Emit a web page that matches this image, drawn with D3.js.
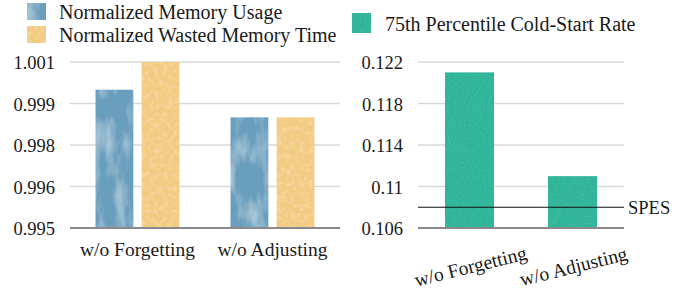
<!DOCTYPE html>
<html lang="en">
<head>
    <meta charset="UTF-8">
    <script src="https://cdn.jsdelivr.net/npm/d3@7"></script>
    <title>ablation</title>
    <style>
        body { margin: 0; background: #fff; }
    </style>
</head>
<body>
</body>
<script>

    // data
    let categories = ["w/o Forgetting", "w/o Adjusting"];
    let seriesNames = ["Normalized Memory Usage", "Normalized Wasted Memory Time"];
    let memoryUsage = [1.0000, 0.9990];
    let wastedMemTime = [1.0010, 0.9990];
    let leftTicks = [0.995, 0.9965, 0.998, 0.9995, 1.001];
    let leftTickLabels = ["0.995", "0.996", "0.998", "0.999", "1.001"];

    let coldStartName = "75th Percentile Cold-Start Rate";
    let coldStart = [0.121, 0.111];
    let rightTicks = [0.106, 0.110, 0.114, 0.118, 0.122];
    let rightTickLabels = ["0.106", "0.11", "0.114", "0.118", "0.122"];
    let spes = 0.108;

    let width = 696, height = 293;
    let svg = d3.select("body")
        .append("svg")
        .attr("width", width)
        .attr("height", height)

    // textures, roughly like the office fills
    let defs = svg.append("defs");
    function texture(id, freq, oct, seed, rgb, amp, off) {
        let f = defs.append("filter").attr("id", id)
            .attr("x", 0).attr("y", 0).attr("width", 1).attr("height", 1);
        f.append("feTurbulence").attr("type", "fractalNoise")
            .attr("baseFrequency", freq).attr("numOctaves", oct).attr("seed", seed).attr("result", "n");
        f.append("feColorMatrix").attr("in", "n").attr("type", "matrix")
            .attr("values", `0 0 0 0 ${rgb[0]}  0 0 0 0 ${rgb[1]}  0 0 0 0 ${rgb[2]}  ${amp} 0 0 0 ${off}`)
            .attr("result", "c");
        f.append("feComposite").attr("in", "c").attr("in2", "SourceGraphic").attr("operator", "atop");
    }
    texture("texBlue", "0.07 0.025", 3, 4, [0.6, 0.78, 0.85], 1.4, -0.6);
    texture("texYellow", "0.22 0.22", 2, 7, [0.97, 0.86, 0.64], 0.9, -0.42);
    texture("texGreen", "0.7 0.7", 2, 2, [0.12, 0.55, 0.46], 1.0, -0.45);

    let colors = ["#6a9ebd", "#f3cc84"];
    let filters = ["url(#texBlue)", "url(#texYellow)"];

    let plotTop = 62, base = 228;

    // css font-family did not take, attributes do
    function styleText(sel, size) {
        sel.attr("font-family", "Liberation Serif").attr("font-size", size).attr("fill", "#1a1a1a");
    }

    // ---------- left chart ----------
    let x0 = d3.scaleBand().domain(categories).range([70, 340]);
    let y0 = d3.scaleLinear().domain([0.995, 1.001]).range([base, plotTop]);

    svg.append("g").selectAll("line")
        .data(leftTicks.slice(1))
        .join("line")
        .attr("x1", 70).attr("x2", 340)
        .attr("y1", d => y0(d)).attr("y2", d => y0(d))
        .attr("stroke", "#d9d9d9").attr("stroke-width", 1.5);

    let yAxisL = d3.axisLeft(y0).tickValues(leftTicks)
        .tickFormat((d, i) => leftTickLabels[i]).tickSize(0).tickPadding(0);
    let gl = svg.append("g").attr("transform", "translate(55,0)").call(yAxisL);
    gl.select(".domain").remove();
    gl.selectAll("text").call(styleText, 18.5).attr("dy", "0.36em");

    let rows = categories.map((c, i) => [memoryUsage[i], wastedMemTime[i]]);
    categories.forEach((c, i) => {
        let cx = x0(c) + x0.bandwidth() / 2;
        let x1 = d3.scaleBand().domain([0, 1]).range([cx - 42, cx + 42]).paddingInner(0.18);
        svg.append("g").selectAll("rect")
            .data(rows[i])
            .join("rect")
            .attr("x", (d, j) => x1(j))
            .attr("width", x1.bandwidth())
            .attr("y", d => y0(d))
            .attr("height", d => base - y0(d))
            .attr("fill", (d, j) => colors[j])
            .attr("filter", (d, j) => filters[j]);
    });

    svg.append("line")
        .attr("x1", 70).attr("x2", 340).attr("y1", base).attr("y2", base)
        .attr("stroke", "#8a8a8a").attr("stroke-width", 2);

    let xAxisL = d3.axisBottom(x0).tickSize(0).tickPadding(0);
    let gx = svg.append("g").attr("transform", `translate(0,${base})`).call(xAxisL);
    gx.select(".domain").remove();
    gx.selectAll("text").call(styleText, 19.5).attr("y", 28).attr("dy", 0);

    // legend left
    let legL = svg.append("g").selectAll("g")
        .data(seriesNames)
        .join("g")
        .attr("transform", (d, i) => `translate(27,${3 + i * 23})`);
    legL.append("rect").attr("width", 19).attr("height", 17)
        .attr("fill", (d, i) => colors[i]).attr("filter", (d, i) => filters[i]);
    legL.append("text").attr("x", 32).attr("y", 16).text(d => d).call(styleText, 20);

    // ---------- right chart ----------
    let xr = d3.scaleBand().domain(categories).range([418, 624]);
    let yr = d3.scaleLinear().domain([0.106, 0.122]).range([base, plotTop]);

    svg.append("g").selectAll("line")
        .data(rightTicks.slice(1))
        .join("line")
        .attr("x1", 418).attr("x2", 624)
        .attr("y1", d => yr(d)).attr("y2", d => yr(d))
        .attr("stroke", "#d9d9d9").attr("stroke-width", 1.5);

    let yAxisR = d3.axisLeft(yr).tickValues(rightTicks)
        .tickFormat((d, i) => rightTickLabels[i]).tickSize(0).tickPadding(0);
    let gr = svg.append("g").attr("transform", "translate(403,0)").call(yAxisR);
    gr.select(".domain").remove();
    gr.selectAll("text").call(styleText, 18.5).attr("dy", "0.36em");

    let bw = xr.bandwidth() * 0.476;
    svg.append("g").selectAll("rect")
        .data(coldStart)
        .join("rect")
        .attr("x", (d, i) => xr(categories[i]) + xr.bandwidth() / 2 - bw / 2)
        .attr("width", bw)
        .attr("y", d => yr(d))
        .attr("height", d => base - yr(d))
        .attr("fill", "#2db598")
        .attr("filter", "url(#texGreen)");

    svg.append("line")
        .attr("x1", 418).attr("x2", 624).attr("y1", base).attr("y2", base)
        .attr("stroke", "#8a8a8a").attr("stroke-width", 2);

    // SPES reference
    svg.append("line")
        .attr("x1", 418).attr("x2", 624).attr("y1", yr(spes)).attr("y2", yr(spes))
        .attr("stroke", "#111").attr("stroke-width", 1.2);
    svg.append("text").attr("x", 628).attr("y", yr(spes)).attr("dy", "0.36em")
        .text("SPES").call(styleText, 18.5);

    // rotated category labels
    svg.append("g").selectAll("text")
        .data(categories)
        .join("text")
        .attr("transform", d => `translate(${xr(d) + xr.bandwidth() / 2 + 1},${266}) rotate(-14)`)
        .attr("text-anchor", "middle")
        .attr("dy", "0.36em")
        .text(d => d)
        .call(styleText, 19.5);

    // legend right
    let legR = svg.append("g").attr("transform", "translate(352,13)");
    legR.append("rect").attr("width", 19).attr("height", 20)
        .attr("fill", "#2db598").attr("filter", "url(#texGreen)");
    legR.append("text").attr("x", 33).attr("y", 18).text(coldStartName).call(styleText, 20);

</script>
</html>
